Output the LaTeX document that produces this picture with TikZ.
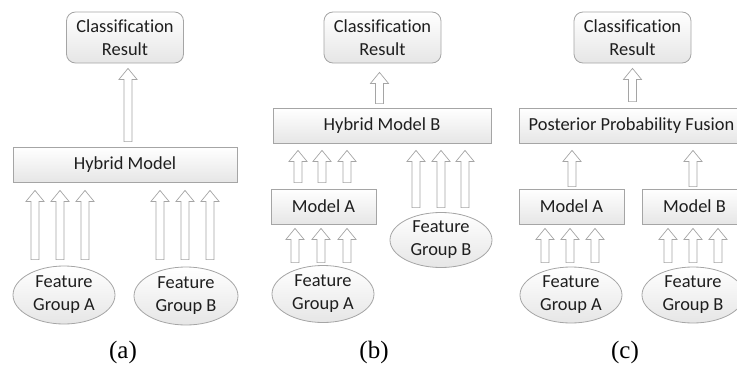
\documentclass[tikz,border=0pt]{standalone}
\usepackage{fontspec}
\setmainfont{Carlito}[Ligatures=NoCommon]
\newfontfamily\labfont{Liberation Serif}
\usetikzlibrary{shapes.geometric,calc}
\definecolor{boxgray}{RGB}{165,165,165}
\definecolor{boxbot}{RGB}{230,230,230}
\definecolor{arrgray}{RGB}{165,165,165}
\definecolor{txt}{RGB}{30,30,30}
\tikzset{
  base/.style={draw=boxgray, line width=0.8pt, top color=white, bottom color=boxbot,
    text=txt, font=\fontsize{18.4}{23}\selectfont, inner sep=0pt, align=center},
  crbox/.style={base, rounded corners=9pt, minimum width=117pt, minimum height=51pt},
  mbox/.style={base, minimum height=35pt},
  feat/.style={base, ellipse, minimum width=102pt, minimum height=57pt},
  blockarr/.style={to path={let \p1=(\tikztostart), \p2=(\tikztotarget) in
    (\x1-4pt,\y1) -- (\x1-4pt,\y2-11pt) -- (\x1-9pt,\y2-11pt) -- (\x1,\y2)
    -- (\x1+9pt,\y2-11pt) -- (\x1+4pt,\y2-11pt) -- (\x1+4pt,\y1) -- cycle}},
  arr/.style={draw=arrgray, fill=white, line width=0.7pt, line join=miter},
  lab/.style={font=\labfont\fontsize{25}{30}\selectfont, inner sep=0pt, text=black}
}
\begin{document}
\begin{tikzpicture}[x=1pt,y=-1pt]
\useasboundingbox (0,0) rectangle (737,367);
% ---------------- (a)
\node[crbox] (crA) at (125,37.5) {Classification\\Result};
\node[mbox, minimum width=224pt] (hm) at (125,164.5) {Hybrid Model};
\node[feat, minimum height=58pt] (eA) at (64,295) {Feature\\Group A};
\node[feat, minimum height=58pt, minimum width=104pt] (eB) at (186,296) {Feature\\Group B};
\node[lab] (la) at (123,352) {(a)};
\draw[arr] ([xshift=3pt,yshift=5pt]hm.north) to[blockarr] ([yshift=-5pt]crA.south);
\foreach \d in {-29,-4,21}
  \draw[arr] ([xshift=\d pt,yshift=6pt]eA.north) to[blockarr] ([yshift=-8pt]hm.south);
\foreach \d in {-26,-1,24}
  \draw[arr] ([xshift=\d pt,yshift=7pt]eB.north) to[blockarr] ([yshift=-8pt]hm.south);
% ---------------- (b)
\node[crbox] (crB) at (382.5,37.5) {Classification\\Result};
\node[mbox, minimum width=218pt] (hmb) at (382,125.5) {Hybrid Model B};
\node[mbox, minimum width=105pt] (mAb) at (323.5,206.5) {Model A};
\node[feat, minimum height=55pt] (eBb) at (441,240) {Feature\\Group B};
\node[feat] (eAb) at (323,294) {Feature\\Group A};
\node[lab] (lb) at (374,352) {(b)};
\draw[arr] ([xshift=-2.5pt,yshift=4pt]hmb.north) to[blockarr] ([yshift=-9pt]crB.south);
\foreach \d in {-25.5,-1.5,23.5}
  \draw[arr] ([xshift=\d pt,yshift=6pt]mAb.north) to[blockarr] ([yshift=-7pt]hmb.south);
\foreach \d in {-25,0,24}
  \draw[arr] ([xshift=\d pt,yshift=4.5pt]eBb.north) to[blockarr] ([yshift=-7pt]hmb.south);
\foreach \d in {-28,-2,24}
  \draw[arr] ([xshift=\d pt,yshift=2.5pt]eAb.north) to[blockarr] ([yshift=-4pt]mAb.south);
% ---------------- (c)
\node[crbox] (crC) at (632.5,37.5) {Classification\\Result};
\node[mbox, minimum width=225pt] (ppf) at (631.5,125.5) {Posterior Probability Fusion};
\node[mbox, minimum width=105pt] (mAc) at (571.5,206.5) {Model A};
\node[mbox, minimum width=105pt] (mBc) at (694.5,206.5) {Model B};
\node[feat, minimum height=56pt] (eAc) at (571,295) {Feature\\Group A};
\node[feat, minimum height=56pt] (eBc) at (693,295) {Feature\\Group B};
\node[lab] (lc) at (625,352) {(c)};
\draw[arr] ([xshift=1pt,yshift=6pt]ppf.north) to[blockarr] ([yshift=-5pt]crC.south);
\draw[arr] ([xshift=0.5pt,yshift=2pt]mAc.north) to[blockarr] ([yshift=-7pt]ppf.south);
\draw[arr] ([xshift=-1.5pt,yshift=2pt]mBc.north) to[blockarr] ([yshift=-7pt]ppf.south);
\foreach \d in {-26,-1,24}
  \draw[arr] ([xshift=\d pt,yshift=4pt]eAc.north) to[blockarr] ([yshift=-4pt]mAc.south);
\foreach \d in {-25,0,25}
  \draw[arr] ([xshift=\d pt,yshift=4pt]eBc.north) to[blockarr] ([yshift=-4pt]mBc.south);
\end{tikzpicture}
\end{document}
